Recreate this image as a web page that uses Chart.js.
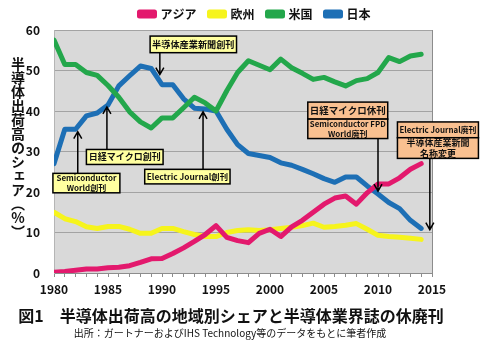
<!DOCTYPE html>
<html>
<head>
<meta charset="utf-8">
<script src="https://cdn.jsdelivr.net/npm/chart.js@4.4.0/dist/chart.umd.min.js"></script>
<style>
body { margin: 0; background: #fff; }
#wrap { position: relative; width: 480px; height: 342px; }
#ytitle {
  position: absolute; left: 10px; top: 57px;
  writing-mode: vertical-rl; text-orientation: upright;
  font: bold 14px "Noto Sans CJK JP"; line-height: 15px; color: #111;
}
</style>
</head>
<body>
<div id="wrap">
<canvas id="c" width="480" height="342"></canvas>
<div id="ytitle">半導体出荷高のシェア（%）</div>
</div>
<script>
// data (share of semiconductor shipments, %)
var years  = [1980,1981,1982,1983,1984,1985,1986,1987,1988,1989,1990,1991,1992,1993,1994,1995,1996,1997,1998,1999,2000,2001,2002,2003,2004,2005,2006,2007,2008,2009,2010,2011,2012,2013,2014];
var asia   = [0.2,0.4,0.7,1.0,1.0,1.3,1.4,1.8,2.6,3.5,3.6,4.8,6.2,7.8,9.5,11.7,8.8,8.0,7.5,9.8,10.8,9.0,11.4,13.0,15.0,17.0,18.5,19.0,17.0,19.8,22.0,22.0,23.5,25.6,27.0];
var europe = [15.0,13.4,12.7,11.4,11.0,11.5,11.5,10.8,9.8,9.8,11.0,11.0,10.2,9.5,9.0,9.0,10.0,10.5,10.7,10.5,10.7,11.0,11.3,11.7,12.3,11.3,11.5,11.8,12.2,10.8,9.3,9.0,8.8,8.6,8.3];
var usa    = [57.5,51.5,51.5,49.5,48.8,46.3,43.4,39.8,37.3,35.8,38.3,38.3,40.8,43.4,42.0,40.0,45.0,49.5,52.4,51.3,50.2,52.8,50.7,49.3,47.8,48.3,47.2,46.2,47.5,48.0,49.5,53.2,52.2,53.6,54.0];
var japan  = [27.0,35.5,35.5,38.8,39.5,41.5,46.2,48.7,51.1,50.5,46.5,46.5,43.0,40.7,40.5,40.0,35.5,31.7,29.5,29.0,28.5,27.2,26.6,25.6,24.5,23.3,22.4,23.7,23.7,21.5,19.5,17.4,15.9,13.0,11.0];

var seriesNames = ['アジア', '欧州', '米国', '日本'];
var seriesColors = ['#e3196d', '#f6f41c', '#23a74b', '#1d6fb5'];

var titleText = '図1　半導体出荷高の地域別シェアと半導体業界誌の休廃刊';
var sourceText = '出所：ガートナーおよびIHS Technology等のデータをもとに筆者作成';

// callout boxes and arrows, in data units (year, %)
var boxes = [
  {lines: ['半導体産業新聞創刊'], x0: 1988.9, x1: 1996.9, y0: 58.5, y1: 54.4, fill: '#ffffa0', size: 9.5},
  {lines: ['Semiconductor', 'World創刊'], x0: 1979.9, x1: 1986.1, y0: 24.6, y1: 19.8, fill: '#ffffa0', size: 8},
  {lines: ['日経マイクロ創刊'], x0: 1983, x1: 1990.1, y0: 30.5, y1: 26.8, fill: '#ffffa0', size: 9},
  {lines: ['Electric Journal創刊'], x0: 1988.4, x1: 1996.3, y0: 25.6, y1: 22, fill: '#ffffa0', size: 8.5},
  {lines: ['日経マイクロ休刊'], x0: 2003.5, x1: 2010.9, y0: 42.2, y1: 38, fill: '#f9c090', size: 9.5},
  {lines: ['Semiconductor FPD', 'World廃刊'], x0: 2003.5, x1: 2010.9, y0: 38, y1: 33.2, fill: '#f9c090', size: 8},
  {lines: ['Electric Journal廃刊'], x0: 2011.8, x1: 2019.3, y0: 37.3, y1: 33.4, fill: '#f9c090', size: 8.5},
  {lines: ['半導体産業新聞', '名称変更'], x0: 2011.8, x1: 2019.3, y0: 33.4, y1: 28.3, fill: '#f9c090', size: 9}
];
var arrows = [
  {x: 1989.8, from: 54.4, to: 49},
  {x: 1982.2, from: 24.6, to: 34.9},
  {x: 1984.9, from: 30.5, to: 41},
  {x: 1993.8, from: 25.6, to: 39.8},
  {x: 2010, from: 33.2, to: 20.2},
  {x: 2014.8, from: 28.3, to: 10.7}
];

var FONT = '"Noto Sans CJK JP", "Noto Sans", sans-serif';
Chart.defaults.font.family = FONT;
Chart.defaults.color = '#111';

function points(vals) {
  return years.map(function (y, i) { return {x: y, y: vals[i]}; });
}

var allSeries = [asia, europe, usa, japan];
var datasets = allSeries.map(function (vals, i) {
  return {
    label: seriesNames[i],
    data: points(vals),
    borderColor: seriesColors[i],
    backgroundColor: seriesColors[i],
    borderWidth: 5,
    pointRadius: 0,
    tension: 0,
    borderCapStyle: 'round',
    borderJoinStyle: 'round'
  };
});

var plotBg = {
  id: 'plotBg',
  beforeDraw: function (chart) {
    var a = chart.chartArea, ctx = chart.ctx;
    ctx.save();
    ctx.fillStyle = '#d9d9d9';
    ctx.fillRect(a.left, a.top, a.right - a.left, a.bottom - a.top);
    ctx.restore();
  },
  afterDatasetsDraw: function (chart) {
    var a = chart.chartArea, ctx = chart.ctx;
    ctx.save();
    ctx.strokeStyle = '#8c8c8c';
    ctx.lineWidth = 1;
    ctx.beginPath();
    ctx.moveTo(Math.round(a.right) + 0.5, a.top);
    ctx.lineTo(Math.round(a.right) + 0.5, a.bottom);
    ctx.stroke();
    ctx.restore();
  }
};

var callouts = {
  id: 'callouts',
  afterDraw: function (chart) {
    var ctx = chart.ctx, sx = chart.scales.x, sy = chart.scales.y;
    ctx.save();
    // arrows
    ctx.strokeStyle = '#000';
    ctx.lineWidth = 1.5;
    arrows.forEach(function (a) {
      var x = sx.getPixelForValue(a.x);
      var y1 = sy.getPixelForValue(a.from), y2 = sy.getPixelForValue(a.to);
      var dir = y2 > y1 ? 1 : -1;
      ctx.beginPath();
      ctx.moveTo(x, y1);
      ctx.lineTo(x, y2);
      ctx.moveTo(x - 4, y2 - dir * 7);
      ctx.lineTo(x, y2);
      ctx.lineTo(x + 4, y2 - dir * 7);
      ctx.stroke();
    });
    // boxes
    boxes.forEach(function (b) {
      var l = sx.getPixelForValue(b.x0), r = sx.getPixelForValue(b.x1);
      var t = sy.getPixelForValue(b.y0), btm = sy.getPixelForValue(b.y1);
      ctx.fillStyle = b.fill;
      ctx.fillRect(l, t, r - l, btm - t);
      ctx.strokeStyle = '#000';
      ctx.lineWidth = 1.5;
      ctx.strokeRect(l, t, r - l, btm - t);
      ctx.fillStyle = '#111';
      ctx.font = 'bold ' + b.size + 'px ' + FONT;
      ctx.textAlign = 'center';
      ctx.textBaseline = 'middle';
      var lh = (btm - t) / b.lines.length;
      b.lines.forEach(function (s, i) {
        ctx.fillText(s, (l + r) / 2, t + lh * (i + 0.5), r - l - 4);
      });
    });
    // figure title and source line
    ctx.fillStyle = '#111';
    ctx.textAlign = 'center';
    ctx.textBaseline = 'middle';
    ctx.font = 'bold 16px ' + FONT;
    ctx.fillText(titleText, 231, 316);
    ctx.font = '10px ' + FONT;
    ctx.fillText(sourceText, 230, 333);
    ctx.restore();
  }
};

new Chart(document.getElementById('c'), {
  type: 'line',
  data: {datasets: datasets},
  options: {
    responsive: false,
    animation: false,
    devicePixelRatio: 1,
    layout: {padding: {top: -5, left: 0, right: -30, bottom: 0}},
    plugins: {
      legend: {
        display: true,
        position: 'top',
        labels: {
          boxWidth: 15,
          boxHeight: 4,
          padding: 13,
          color: '#111',
          font: {size: 12, weight: 'bold'}
        }
      },
      tooltip: {enabled: false}
    },
    scales: {
      x: {
        type: 'linear',
        min: 1980,
        max: 2015,
        afterFit: function (s) { s.height = 69; },
        ticks: {
          stepSize: 1,
          autoSkip: false,
          maxRotation: 0,
          padding: 5,
          color: '#111',
          font: {size: 12, weight: 'bold'},
          callback: function (v) { return v % 5 === 0 ? String(v) : ''; }
        },
        grid: {drawOnChartArea: false, drawTicks: true, tickLength: 4, color: '#8c8c8c'},
        border: {color: '#8c8c8c'}
      },
      y: {
        min: 0,
        max: 60,
        afterFit: function (s) { s.width = 54; },
        ticks: {
          stepSize: 10,
          padding: 14,
          color: '#111',
          font: {size: 12, weight: 'bold'}
        },
        grid: {color: '#a3a3a3', drawTicks: false},
        border: {color: '#b5b5b5'}
      },
      yR: {
        position: 'right',
        display: true,
        afterFit: function (s) { s.width = 78; },
        ticks: {display: false},
        grid: {display: false},
        border: {display: false}
      }
    }
  },
  plugins: [plotBg, callouts]
});
</script>
</body>
</html>
